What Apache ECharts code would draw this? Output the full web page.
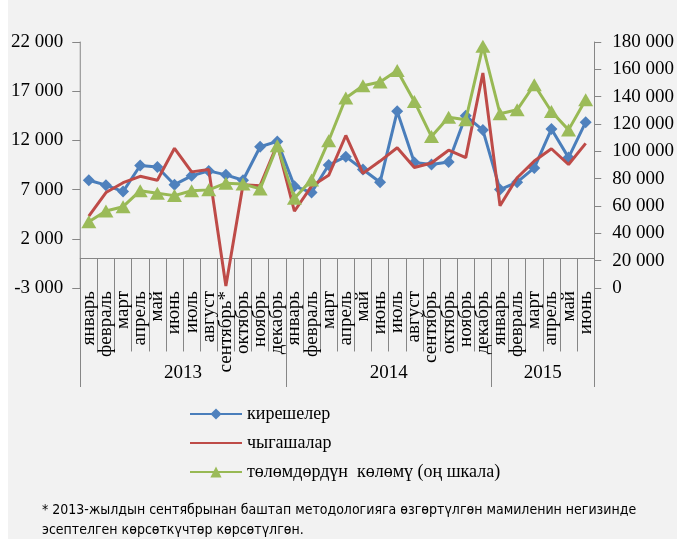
<!DOCTYPE html>
<html><head><meta charset="utf-8">
<script src="https://cdn.jsdelivr.net/npm/echarts@6/dist/echarts.min.js"></script>
<style>
html,body{margin:0;padding:0;background:#ffffff;}
#c{position:absolute;left:8px;top:0;width:669px;height:539px;background:#f2f2f2;}
</style></head>
<body><div id="c"></div>
<script>
const monthNames2013 = ['январь','февраль','март','апрель','май','июнь','июль','август','сентябрь*','октябрь','ноябрь','декабрь'];
const monthNames2014 = ['январь','февраль','март','апрель','май','июнь','июль','август','сентябрь','октябрь','ноябрь','декабрь'];
const monthNames2015 = ['январь','февраль','март','апрель','май','июнь'];
const years = ['2013','2014','2015'];
const yearStart = [0, 12, 24, 30];
const income = [7950, 7450, 6800, 9450, 9300, 7500, 8400, 8900, 8500, 7950, 11350, 11900,
                7350, 6700, 9500, 10350, 9050, 7750, 14950, 9750, 9550, 9800, 14500, 13050,
                7000, 7750, 9200, 13150, 10250, 13850];
const expenses = [4300, 6700, 7700, 8350, 7950, 11200, 8800, 9050, -2800, 7500, 7400, 11600,
                  4800, 7350, 8450, 12500, 8650, 9900, 11250, 9250, 9700, 11000, 10250, 18850,
                  5350, 8200, 9900, 11150, 9550, 11700];
const volume = [48500, 56400, 59500, 71200, 69300, 67600, 71200, 71800, 76700, 76100, 72500, 104000,
                65700, 79100, 107700, 139000, 148000, 150700, 159200, 136500, 110800, 125000, 123100, 176800,
                127500, 130400, 148700, 129100, 115700, 137700];
const leftTicks = [-3000, 2000, 7000, 12000, 17000, 22000];
const seriesNames = ['кирешелер', 'чыгашалар', 'төлөмдөрдүн  көлөмү (оң шкала)'];
const footnote1 = '* 2013-жылдын сентябрынан баштап методологияга өзгөртүлгөн мамиленин негизинде';
const footnote2 = 'эсептелген көрсөткүчтөр көрсөтүлгөн.';

const months = monthNames2013.concat(monthNames2014, monthNames2015);
const serif = "'Liberation Serif', 'Times New Roman', serif";
const sansNarrow = "'Liberation Sans Narrow', 'DejaVu Sans Condensed', 'Liberation Sans', sans-serif";
function fmt(v){
  const s = String(Math.abs(v)).replace(/\B(?=(\d{3})+(?!\d))/g, ' ');
  return (v < 0 ? '-' : '') + s;
}
const axisColor = '#868686';
const chart = echarts.init(document.getElementById('c'), null, {renderer:'canvas'});
chart.setOption({
  animation: false,
  backgroundColor: '#f2f2f2',
  grid: {left: 72, right: 80, top: 42, bottom: 251},
  xAxis: [
    {
      type: 'category', data: months, boundaryGap: true, position: 'bottom',
      axisLine: {show: true, onZero: true, onZeroAxisIndex: 0, lineStyle: {color: axisColor, width: 1}},
      axisTick: {show: true, interval: 0, alignWithLabel: false, inside: false, length: 93, lineStyle: {color: axisColor}},
      axisLabel: {interval: 0, rotate: 90, margin: 3, color: '#000', fontFamily: serif, fontSize: 19},
      splitLine: {show: false}
    },
    {
      type: 'value', min: 0, max: 30, position: 'bottom',
      axisLine: {show: false, onZero: false},
      axisTick: {show: true, customValues: yearStart, length: 99, lineStyle: {color: axisColor}},
      axisLabel: {customValues: [6, 18, 27], margin: 76, color: '#000', fontFamily: serif, fontSize: 19,
        formatter: v => (v === 6 ? years[0] : v === 18 ? years[1] : years[2])},
      splitLine: {show: false}
    }
  ],
  yAxis: [
    {
      type: 'value', min: -3000, max: 22000, interval: 5000, position: 'left',
      axisLine: {show: true, onZero: false, lineStyle: {color: axisColor}},
      axisTick: {show: true, customValues: leftTicks, length: 8, lineStyle: {color: axisColor}},
      axisLabel: {customValues: leftTicks, margin: 17, color: '#000', fontFamily: serif, fontSize: 19, formatter: fmt},
      splitLine: {show: false}
    },
    {
      type: 'value', min: 0, max: 180000, interval: 20000, position: 'right',
      axisLine: {show: true, onZero: false, lineStyle: {color: axisColor}},
      axisTick: {show: true, length: 7, lineStyle: {color: axisColor}},
      axisLabel: {margin: 18, color: '#000', fontFamily: serif, fontSize: 19, formatter: fmt},
      splitLine: {show: false}
    }
  ],
  legend: {
    orient: 'vertical', left: 176, top: 399, itemGap: 9, itemWidth: 52, itemHeight: 14,
    textStyle: {fontFamily: serif, fontSize: 18, color: '#000', lineHeight: 20},
    data: [
      {name: seriesNames[0]},
      {name: seriesNames[1], itemStyle: {opacity: 0}},
      {name: seriesNames[2]}
    ]
  },
  series: [
    {
      name: seriesNames[0], type: 'line', xAxisIndex: 0, yAxisIndex: 0, data: income,
      symbol: 'diamond', symbolSize: 12, z: 2,
      lineStyle: {color: '#4a7ebb', width: 3}, itemStyle: {color: '#4f81bd'}
    },
    {
      name: seriesNames[1], type: 'line', xAxisIndex: 0, yAxisIndex: 0, data: expenses,
      symbol: 'none', z: 3,
      lineStyle: {color: '#be4b48', width: 3}, itemStyle: {color: '#be4b48'}
    },
    {
      name: seriesNames[2], type: 'line', xAxisIndex: 0, yAxisIndex: 1, data: volume,
      symbol: 'triangle', symbolSize: [15, 13], z: 4,
      lineStyle: {color: '#98b954', width: 3}, itemStyle: {color: '#9bbb59'}
    }
  ],
  graphic: [
    {type: 'text', left: 34, top: 503, style: {text: footnote1, fontFamily: sansNarrow, fontSize: 14, fill: '#000'}},
    {type: 'text', left: 34, top: 523, style: {text: footnote2, fontFamily: sansNarrow, fontSize: 14, fill: '#000'}}
  ]
});
</script></body></html>
